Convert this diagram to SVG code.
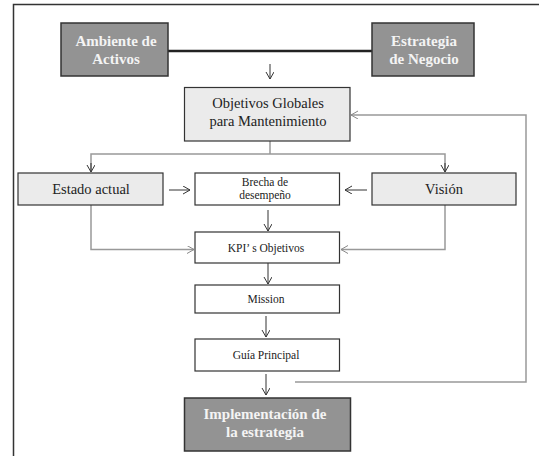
<svg xmlns="http://www.w3.org/2000/svg" width="539" height="456" viewBox="0 0 539 456">
<defs>
<marker id="ah" markerWidth="10" markerHeight="10" refX="7" refY="4" orient="auto" markerUnits="userSpaceOnUse">
<path d="M0,0 L7,4 L0,8" fill="none" stroke="#333" stroke-width="1"/>
</marker>
<marker id="ahg" markerWidth="10" markerHeight="10" refX="7" refY="4" orient="auto" markerUnits="userSpaceOnUse">
<path d="M0,0 L7,4 L0,8" fill="none" stroke="#888" stroke-width="1"/>
</marker>
</defs>
<style>
.dark{fill:#939393;stroke:#333;stroke-width:1.5}
.light{fill:#ebebeb;stroke:#333;stroke-width:1.2}
.white{fill:#fff;stroke:#333;stroke-width:1.2}
text{font-family:'Liberation Serif','Times New Roman','DejaVu Serif',serif}
.tw{font-size:15px;font-weight:bold;fill:#f4f4f4;text-anchor:middle}
.tb{font-size:14.5px;fill:#222;text-anchor:middle}
.ts{font-size:11.5px;fill:#222;text-anchor:middle}
.c{fill:none;stroke:#333;stroke-width:1}
.g{fill:none;stroke:#999;stroke-width:1.5}
</style>
<rect width="539" height="456" fill="#fff"/>
<path d="M13.5,460 V4.5 H545" fill="none" stroke="#333" stroke-width="1.5"/>
<g id="connectors">
<line x1="168" y1="51" x2="372" y2="51" stroke="#222" stroke-width="2.5"/>
<line class="c" x1="270" y1="64" x2="270" y2="79" marker-end="url(#ah)"/>
<path class="g" d="M270,141 V154"/>
<path class="g" d="M91,171 V154 H445 V171"/>
<line class="c" x1="91" y1="163" x2="91" y2="172" marker-end="url(#ah)"/>
<line class="c" x1="445" y1="163" x2="445" y2="172" marker-end="url(#ah)"/>
<line class="c" x1="169" y1="190" x2="190" y2="190" marker-end="url(#ah)"/>
<line class="c" x1="367" y1="190" x2="345" y2="190" marker-end="url(#ah)"/>
<line class="c" x1="268" y1="210" x2="268" y2="231" marker-end="url(#ah)"/>
<path class="g" d="M91,205 V249.5 H194" marker-end="url(#ahg)"/>
<path class="g" d="M445,205 V249.5 H341" marker-end="url(#ahg)"/>
<line class="c" x1="268" y1="263" x2="268" y2="284" marker-end="url(#ah)"/>
<line class="c" x1="266" y1="316" x2="266" y2="337" marker-end="url(#ah)"/>
<line class="c" x1="266" y1="374" x2="266" y2="395" marker-end="url(#ah)"/>
<path class="g" d="M295,382 H526 V115 H351" marker-end="url(#ahg)"/>
</g>
<g id="ambiente">
<rect class="dark" x="61" y="23" width="107" height="53"/>
<text class="tw" x="116" y="46">Ambiente de</text>
<text class="tw" x="116" y="64">Activos</text>
</g>
<g id="estrategia">
<rect class="dark" x="372" y="23" width="102" height="53"/>
<text class="tw" x="424" y="46">Estrategia</text>
<text class="tw" x="424" y="64">de Negocio</text>
</g>
<g id="objetivos">
<rect class="light" x="184.5" y="87.5" width="165.5" height="53.5"/>
<text class="tb" x="268" y="108">Objetivos Globales</text>
<text class="tb" x="268" y="126">para Mantenimiento</text>
</g>
<g id="estado">
<rect class="light" x="18" y="173" width="145" height="32"/>
<text class="tb" x="91" y="194">Estado actual</text>
</g>
<g id="brecha">
<rect class="white" x="195" y="173" width="144.5" height="32"/>
<text class="ts" x="265" y="186">Brecha de</text>
<text class="ts" x="265" y="199">desempeño</text>
</g>
<g id="vision">
<rect class="light" x="372" y="173" width="144" height="32"/>
<text class="tb" x="444" y="194">Visión</text>
</g>
<g id="kpi">
<rect class="white" x="195" y="232" width="144.5" height="31"/>
<text class="ts" x="266" y="252">KPI’ s Objetivos</text>
</g>
<g id="mission">
<rect class="white" x="195" y="285" width="144.5" height="28"/>
<text class="ts" x="266" y="303">Mission</text>
</g>
<g id="guia">
<rect class="white" x="195" y="339" width="144.5" height="32"/>
<text class="ts" x="266" y="359">Guía Principal</text>
</g>
<g id="implementacion">
<rect class="dark" x="184.5" y="398" width="166" height="53"/>
<text class="tw" x="265" y="419">Implementación de</text>
<text class="tw" x="265" y="437">la estrategia</text>
</g>
</svg>
